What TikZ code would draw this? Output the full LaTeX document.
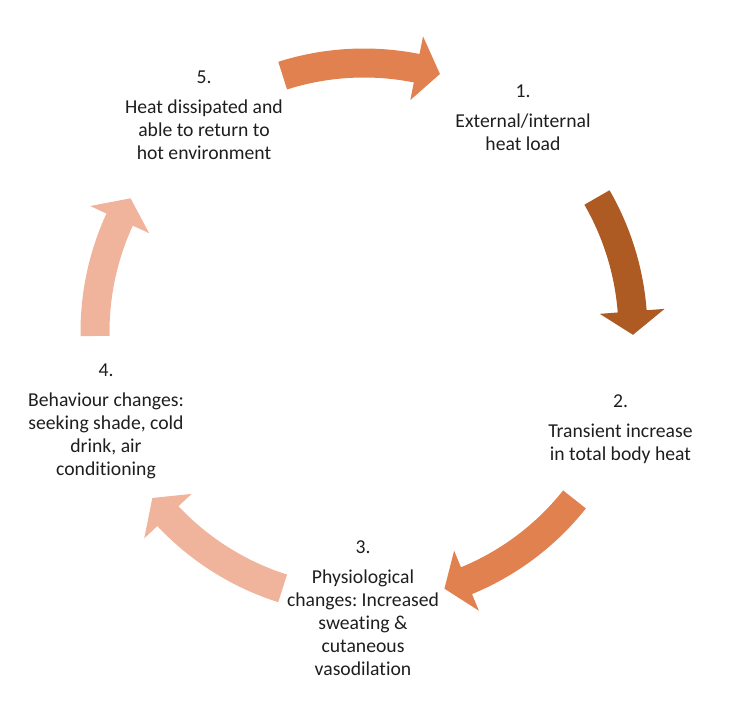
\documentclass[tikz,border=0pt]{standalone}
\usepackage{fontspec}
\setmainfont{Carlito}[Ligatures=NoCommon]
\usepackage{tikz}
\usetikzlibrary{positioning, calc}
\usepackage{xcolor}
\definecolor{midorange}{RGB}{225,129,80}
\definecolor{darkorange}{RGB}{174,90,35}
\definecolor{lightsalmon}{RGB}{240,180,156}
\definecolor{textgray}{RGB}{30,30,30}
\frenchspacing

% curved block arrow on the cycle: tail angle, head base angle, tip angle, colour
\newcommand{\cyclearrow}[4]{%
  \fill[#4] (#1:283.5) arc[start angle=#1, end angle=#2, radius=283.5]
    -- (#2:301.5) -- (#3:269) -- (#2:236.5) -- (#2:254.5)
    arc[start angle=#2, end angle=#1, radius=254.5] -- cycle;
}

\begin{document}
\begin{tikzpicture}[
    scale=0.02,
    stage/.style={align=center, text=textgray, font=\fontsize{11.2}{13.1}\selectfont, inner sep=0pt}
]
    \useasboundingbox (-364,-384) rectangle (390,332);

    % Stages
    \node[stage] (heatload) at (159,214.5) {1.\\[4pt]External/internal\\heat load};
    \node[stage] (increase) at (256.5,-97) {2.\\[4pt]Transient increase\\in total body heat};
    \node[stage] (physio) at (-1,-276) {3.\\[4pt]Physiological\\changes: Increased\\sweating \&\\cutaneous\\vasodilation};
    \node[stage] (behaviour) at (-258,-89.5) {4.\\[4pt]Behaviour changes:\\seeking shade, cold\\drink, air\\conditioning};
    \node[stage] (dissipated) at (-160,216.5) {5.\\[4pt]Heat dissipated and\\able to return to\\hot environment};

    % Arrows
    \cyclearrow{107.6}{78.7}{73.6}{midorange}
    \cyclearrow{30}{4.4}{-0.6}{darkorange}
    \cyclearrow{-38.5}{-67.6}{-72.6}{midorange}
    \cyclearrow{-107.6}{-136.8}{-141.9}{lightsalmon}
    \cyclearrow{180.85}{155.3}{150.2}{lightsalmon}

\end{tikzpicture}
\end{document}
